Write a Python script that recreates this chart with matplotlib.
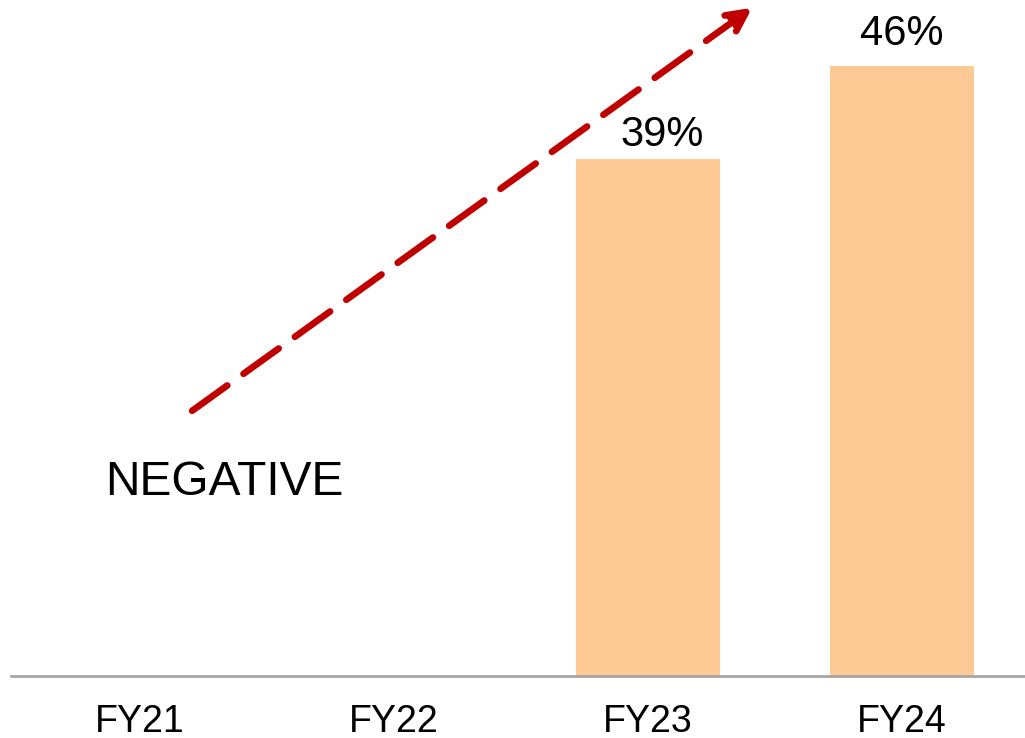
import matplotlib.pyplot as plt

categories = ["FY21", "FY22", "FY23", "FY24"]
values = [None, None, 39, 46]
labels = ["", "", "39%", "46%"]
label_shift_x_pt = [0, 0, 10, 0]
label_shift_y_pt = [0, 0, 3, 9]

plt.rcParams['font.family'] = ['Liberation Sans', 'DejaVu Sans']

fig = plt.figure(figsize=(10.25, 7.38), dpi=100)
ax = fig.add_axes([11 / 1025, 62 / 738, 1 - 11 / 1025, 1 - 62 / 738])

x = list(range(len(categories)))
bar_x = [i for i, v in zip(x, values) if v is not None]
bar_v = [v for v in values if v is not None]
ax.bar(bar_x, bar_v, width=0.567, color="#FDC994", zorder=2)

for xi, v, lab, dx, dy in zip(x, values, labels, label_shift_x_pt, label_shift_y_pt):
    if v is not None:
        ax.annotate(lab, xy=(xi, v), xytext=(dx, dy), textcoords="offset points",
                    ha="center", va="bottom", fontsize=30, color="black")

ax.set_xlim(-0.508, 3.484)
ax.set_ylim(0, 50.98)

ax.set_xticks(x)
ax.set_xticklabels(categories, fontsize=27)
ax.tick_params(axis="x", length=0, pad=20)
ax.set_yticks([])
for side in ["left", "right", "top"]:
    ax.spines[side].set_visible(False)
ax.spines["bottom"].set_color("#A6A6A6")
ax.spines["bottom"].set_linewidth(2)

ax.text(0.33, 14.6, "NEGATIVE", ha="center", va="center", fontsize=34.5, color="black")

ax.annotate("", xy=(2.41, 50.4), xytext=(0.205, 20.0),
            arrowprops=dict(arrowstyle="-|>,head_length=1.4,head_width=0.7",
                            color="#C00000", lw=4.8, linestyle=(0, (6.5, 3)),
                            shrinkA=0, shrinkB=0),
            annotation_clip=False)

fig.savefig("out.png", dpi=100)
